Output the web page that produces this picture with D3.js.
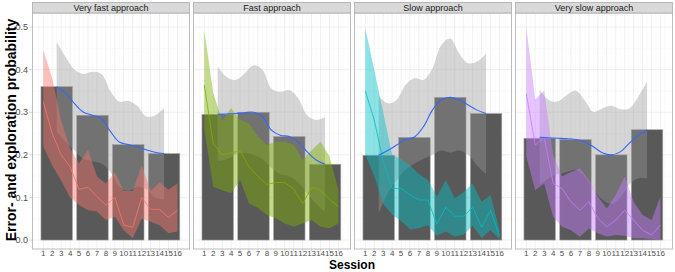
<!DOCTYPE html>
<html>
<head>
<meta charset="utf-8">
<script src="https://cdn.jsdelivr.net/npm/d3@7"></script>
<style>
  body { margin: 0; background: #fff; }
  text { font-family: "Liberation Sans", Arial, sans-serif; }
</style>
</head>
<body>
<div id="chart"></div>
<script>
const panelNames = ["Very fast approach", "Fast approach", "Slow approach", "Very slow approach"];
const panelColors = ["#F8766D", "#7CAE00", "#00BFC4", "#C77CFF"];
const sessions = [1, 2, 3, 4, 5, 6, 7, 8, 9, 10, 11, 12, 13, 14, 15, 16];
const blockMid = [2.5, 6.5, 10.5, 14.5];
const smoothX = [2.5, 3.5, 4.5, 5.5, 6.5, 7.5, 8.5, 9.5, 10.5, 11.5, 12.5, 13.5, 14.5];
const yTicks = [0, 0.1, 0.2, 0.3, 0.4, 0.5];

// block means (bars)
const barMeans = [
  [0.36, 0.293, 0.224, 0.203],
  [0.295, 0.30, 0.243, 0.178],
  [0.199, 0.241, 0.335, 0.297],
  [0.239, 0.236, 0.2, 0.259]
];

// smoother through the block means, with its band
const smoothFit = [
  [0.36, 0.345, 0.32, 0.30, 0.293, 0.285, 0.255, 0.23, 0.224, 0.219, 0.212, 0.206, 0.203],
  [0.295, 0.296, 0.297, 0.299, 0.30, 0.29, 0.258, 0.246, 0.243, 0.23, 0.207, 0.188, 0.178],
  [0.199, 0.21, 0.223, 0.236, 0.242, 0.266, 0.305, 0.329, 0.335, 0.329, 0.317, 0.305, 0.297],
  [0.241, 0.240, 0.239, 0.238, 0.236, 0.231, 0.219, 0.205, 0.2, 0.207, 0.227, 0.246, 0.259]
];
const smoothHi = [
  [0.465, 0.43, 0.40, 0.39, 0.395, 0.39, 0.35, 0.325, 0.327, 0.315, 0.29, 0.293, 0.31],
  [0.407, 0.383, 0.376, 0.391, 0.41, 0.40, 0.356, 0.348, 0.352, 0.333, 0.293, 0.282, 0.288],
  [0.338, 0.321, 0.329, 0.364, 0.38, 0.376, 0.403, 0.458, 0.473, 0.438, 0.415, 0.419, 0.438],
  [0.352, 0.329, 0.325, 0.34, 0.351, 0.329, 0.301, 0.309, 0.315, 0.307, 0.309, 0.336, 0.372]
];
const smoothLo = [
  [0.255, 0.23, 0.21, 0.19, 0.185, 0.18, 0.16, 0.125, 0.115, 0.125, 0.12, 0.10, 0.095],
  [0.185, 0.19, 0.2, 0.205, 0.2, 0.19, 0.17, 0.155, 0.15, 0.135, 0.11, 0.085, 0.066],
  [0.063, 0.11, 0.14, 0.165, 0.18, 0.19, 0.2, 0.21, 0.205, 0.21, 0.2, 0.175, 0.155],
  [0.13, 0.145, 0.155, 0.16, 0.165, 0.15, 0.12, 0.095, 0.085, 0.1, 0.13, 0.145, 0.145]
];

// per-session mean and interval
const sessMean = [
  [0.325, 0.25, 0.2, 0.172, 0.119, 0.124, 0.102, 0.082, 0.10, 0.035, 0.030, 0.10, 0.072, 0.072, 0.053, 0.07],
  [0.364, 0.227, 0.2, 0.205, 0.209, 0.172, 0.149, 0.131, 0.135, 0.135, 0.12, 0.085, 0.124, 0.117, 0.096, 0.078],
  [0.35, 0.282, 0.185, 0.121, 0.121, 0.106, 0.094, 0.094, 0.037, 0.077, 0.056, 0.056, 0.077, 0.03, 0.07, 0.01],
  [0.344, 0.223, 0.241, 0.133, 0.121, 0.09, 0.07, 0.09, 0.051, 0.031, 0.047, 0.07, 0.047, 0.023, 0.012, 0.035]
];
const sessHi = [
  [0.446, 0.38, 0.28, 0.215, 0.18, 0.212, 0.149, 0.133, 0.16, 0.115, 0.115, 0.175, 0.115, 0.135, 0.118, 0.133],
  [0.493, 0.345, 0.28, 0.31, 0.282, 0.274, 0.243, 0.223, 0.231, 0.231, 0.223, 0.188, 0.211, 0.231, 0.196, 0.117],
  [0.497, 0.40, 0.30, 0.20, 0.19, 0.175, 0.155, 0.141, 0.102, 0.141, 0.098, 0.113, 0.133, 0.09, 0.106, 0.025],
  [0.50, 0.33, 0.35, 0.2, 0.149, 0.16, 0.168, 0.141, 0.102, 0.074, 0.106, 0.149, 0.09, 0.059, 0.047, 0.102]
];
const sessLo = [
  [0.22, 0.175, 0.14, 0.10, 0.082, 0.07, 0.067, 0.047, 0.055, 0.023, 0.004, 0.05, 0.043, 0.035, 0.016, 0.02],
  [0.26, 0.125, 0.117, 0.11, 0.141, 0.086, 0.075, 0.059, 0.051, 0.039, 0.031, 0.039, 0.047, 0.031, 0.028, 0.039],
  [0.2, 0.15, 0.085, 0.06, 0.045, 0.025, 0.028, 0.035, 0.01, 0.02, 0.008, 0.013, 0.033, 0.005, 0.023, 0.002],
  [0.196, 0.117, 0.133, 0.055, 0.031, 0.023, 0.008, 0.027, 0.016, 0.008, 0.012, 0.01, 0.004, 0.004, 0.002, 0.0]
];

const dim = {width: 675, height: 272, left: 32, top: 13, panelW: 158, gap: 3, bottom: 249, strip: 11};
const barWidth = 3.52;

const svg = d3.select("#chart").append("svg")
  .attr("width", dim.width)
  .attr("height", dim.height);

const y = d3.scaleLinear([-0.021, 0.533], [dim.bottom, dim.top]);
const x = d3.scaleLinear([-0.26, 17.4], [0, dim.panelW]);
const minorX = d3.range(0.5, 17, 1);
const minorY = [0.05, 0.15, 0.25, 0.35, 0.45];

// y axis labels
svg.append("g").attr("class", "axis left")
  .selectAll("text").data(yTicks).join("text")
    .attr("x", 28)
    .attr("y", d => y(d))
    .attr("dy", "0.35em")
    .attr("text-anchor", "end")
    .attr("font-size", 9)
    .attr("fill", "#4d4d4d")
    .text(d => d.toFixed(1));
svg.append("g")
  .selectAll("line").data(yTicks).join("line")
    .attr("x1", 29.5).attr("x2", dim.left)
    .attr("y1", d => y(d)).attr("y2", d => y(d))
    .attr("stroke", "#b3b3b3").attr("stroke-width", 0.6);

panelNames.forEach((name, p) => {
  const px = dim.left + p * (dim.panelW + dim.gap);
  const g = svg.append("g").attr("transform", `translate(${px} 0)`);
  const color = panelColors[p];

  // grid
  g.append("g").selectAll("line").data(minorX).join("line")
    .attr("x1", d => x(d)).attr("x2", d => x(d))
    .attr("y1", dim.top).attr("y2", dim.bottom)
    .attr("stroke", "#f4f4f4").attr("stroke-width", 0.5);
  g.append("g").selectAll("line").data(minorY).join("line")
    .attr("x1", 0).attr("x2", dim.panelW)
    .attr("y1", d => y(d)).attr("y2", d => y(d))
    .attr("stroke", "#f4f4f4").attr("stroke-width", 0.5);
  g.append("g").selectAll("line").data(sessions).join("line")
    .attr("x1", d => x(d)).attr("x2", d => x(d))
    .attr("y1", dim.top).attr("y2", dim.bottom)
    .attr("stroke", "#e6e6e6").attr("stroke-width", 0.6);
  g.append("g").selectAll("line").data(yTicks).join("line")
    .attr("x1", 0).attr("x2", dim.panelW)
    .attr("y1", d => y(d)).attr("y2", d => y(d))
    .attr("stroke", "#e6e6e6").attr("stroke-width", 0.6);

  // bars
  g.append("g").selectAll("rect").data(barMeans[p]).join("rect")
    .attr("x", (d, i) => x(blockMid[i] - barWidth / 2))
    .attr("width", x(barWidth) - x(0))
    .attr("y", d => y(d))
    .attr("height", d => y(0) - y(d))
    .attr("fill", "#595959")
    .attr("stroke", "#a6a6a6")
    .attr("stroke-width", 0.6);

  // smoother band
  const sm = smoothX.map((s, i) => ({s, fit: smoothFit[p][i], lo: smoothLo[p][i], hi: smoothHi[p][i]}));
  g.append("path").datum(sm)
    .attr("fill", "#999999").attr("fill-opacity", 0.4)
    .attr("d", d3.area().curve(d3.curveCatmullRom)
      .x(d => x(d.s)).y0(d => y(d.lo)).y1(d => y(d.hi)));

  // per-session ribbon and line
  const ss = sessions.map((s, i) => ({s, m: sessMean[p][i], lo: sessLo[p][i], hi: sessHi[p][i]}));
  g.append("path").datum(ss)
    .attr("fill", color).attr("fill-opacity", 0.45)
    .attr("d", d3.area().x(d => x(d.s)).y0(d => y(d.lo)).y1(d => y(d.hi)));
  g.append("path").datum(ss)
    .attr("fill", "none").attr("stroke", color).attr("stroke-width", 0.8)
    .attr("d", d3.line().x(d => x(d.s)).y(d => y(d.m)));

  // smoother line
  g.append("path").datum(sm)
    .attr("fill", "none").attr("stroke", "#3366FF").attr("stroke-width", 1.1)
    .attr("d", d3.line().curve(d3.curveCatmullRom).x(d => x(d.s)).y(d => y(d.fit)));

  // border and strip
  g.append("rect")
    .attr("x", 0.5).attr("y", dim.top).attr("width", dim.panelW - 1).attr("height", dim.bottom - dim.top)
    .attr("fill", "none").attr("stroke", "#bdbdbd").attr("stroke-width", 1);
  g.append("rect")
    .attr("x", 0.5).attr("y", 2.5).attr("width", dim.panelW - 1).attr("height", dim.strip - 0.5)
    .attr("fill", "#d9d9d9").attr("stroke", "#ababab").attr("stroke-width", 0.8);
  g.append("text")
    .attr("x", dim.panelW / 2).attr("y", 8)
    .attr("dy", "0.35em")
    .attr("text-anchor", "middle")
    .attr("font-size", 9)
    .attr("fill", "#1a1a1a")
    .text(name);

  // x axis
  g.append("g").selectAll("line").data(sessions).join("line")
    .attr("x1", d => x(d)).attr("x2", d => x(d))
    .attr("y1", dim.bottom).attr("y2", dim.bottom + 2.5)
    .attr("stroke", "#b3b3b3").attr("stroke-width", 0.6);
  g.append("g").selectAll("text").data(sessions).join("text")
    .attr("x", d => x(d))
    .attr("y", 253.5)
    .attr("dy", "0.35em")
    .attr("text-anchor", "middle")
    .attr("font-size", 8)
    .attr("fill", "#4d4d4d")
    .text(d => d);
});

svg.append("text")
  .attr("transform", "translate(15.5 130) rotate(-90)")
  .attr("text-anchor", "middle")
  .attr("font-size", 14)
  .attr("font-weight", "bold")
  .text("Error- and exploration probability");

svg.append("text")
  .attr("x", 352).attr("y", 269.4)
  .attr("text-anchor", "middle")
  .attr("font-size", 12)
  .attr("font-weight", "bold")
  .text("Session");
</script>
</body>
</html>
